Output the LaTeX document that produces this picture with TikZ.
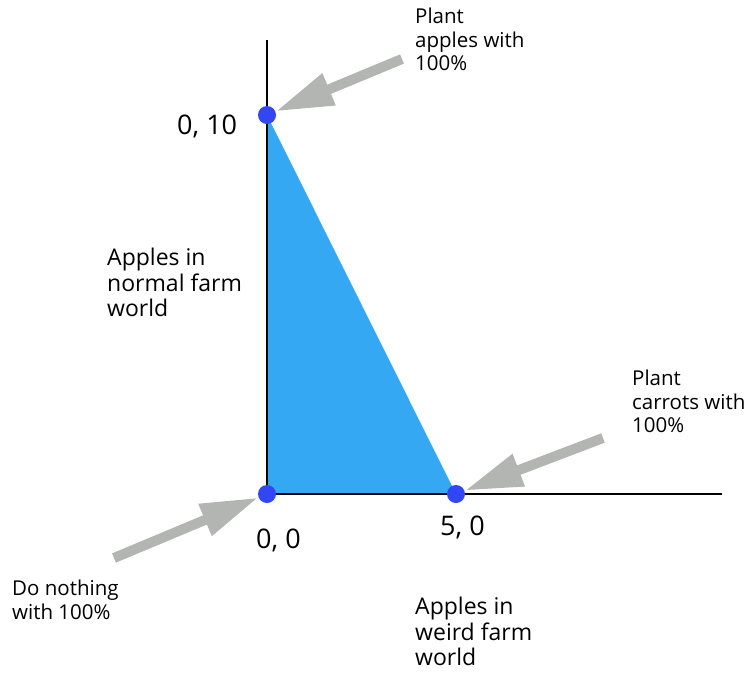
\documentclass[tikz,border=0pt]{standalone}
\usepackage{fontspec}
\setmainfont{Open Sans}
\usetikzlibrary{arrows.meta}
\definecolor{region}{HTML}{35A8F4}
\definecolor{corner}{HTML}{3346F5}
\definecolor{hint}{HTML}{B3B5B2}
\tikzset{
  axisline/.style={draw=black, line width=1.6pt},
  cornerpt/.style={circle, fill=corner, minimum size=18pt, inner sep=0pt},
  pointer/.style={draw=hint, line width=10pt, -{Triangle[length=58pt,width=32pt]}},
  note/.style={anchor=north west, inner sep=0pt, align=left, font=\fontsize{20.5}{23.5}\selectfont},
  bignote/.style={note, font=\fontsize{23}{25.5}\selectfont},
  val/.style={anchor=base west, inner sep=0pt, font=\fontsize{27}{32}\selectfont}
}

\begin{document}
\begin{tikzpicture}[x=1pt, y=-1pt]
\useasboundingbox (0,0) rectangle (749,673);
% feasible region
\fill[region] (267,115) -- (267,494) -- (456,494) -- cycle;
\draw[axisline] (267,40) -- (267,494) -- (722,494);
\node[cornerpt] (top) at (267,115) {};
\node[cornerpt] (orig) at (267,494) {};
\node[cornerpt] (right) at (456,494) {};
% values
\node[val] (vtop) at (177,134) {0, 10};
\node[val] (vorig) at (256,548) {0, 0};
\node[val] (vright) at (440,535) {5, 0};
% axis names
\node[bignote] (yname) at (107,248) {Apples in\\normal farm\\world};
\node[bignote] (xname) at (415,597) {Apples in\\weird farm\\world};
% strategies
\node[note] (napples) at (415,8) {Plant\\apples with\\100\%};
\node[note] (ncarrots) at (632,370) {Plant\\carrots with\\100\%};
\node[note] (nnothing) at (12,580) {Do nothing\\with 100\%};
\coordinate (ta) at (402,59);
\coordinate (tc) at (603,438);
\coordinate (tn) at (114,558);
\draw[pointer] (ta) -- ([shift={(18,-15)}]top);
\draw[pointer] (tc) -- ([shift={(29,-14)}]right);
\draw[pointer] (tn) -- ([shift={(-35,23)}]orig);
\end{tikzpicture}
\end{document}
